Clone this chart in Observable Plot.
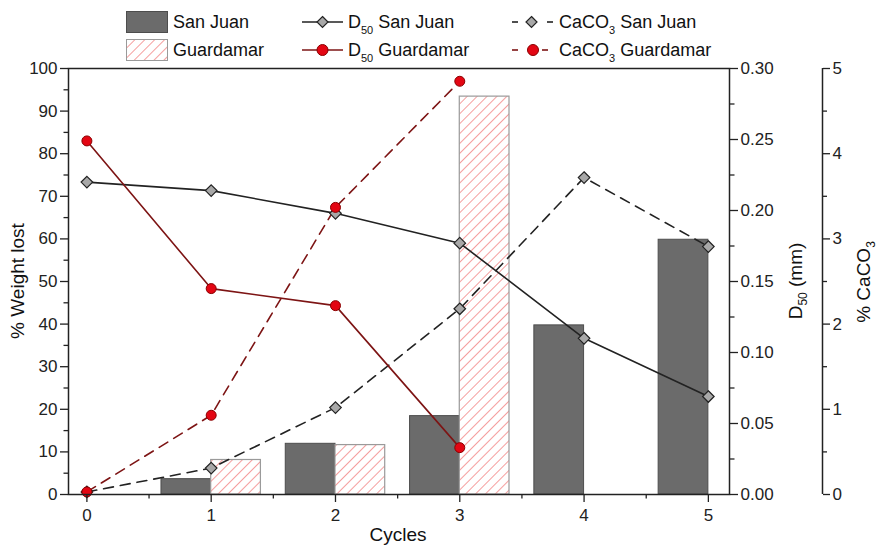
<!DOCTYPE html>
<html><head><meta charset="utf-8">
<script src="https://cdn.jsdelivr.net/npm/d3@7"></script>
<script src="https://cdn.jsdelivr.net/npm/@observablehq/plot@0.6"></script>
<style>
body{margin:0;background:#fff;font-family:"Liberation Sans",Arial,sans-serif;}
#legend{position:relative;height:58px;width:881px;}
.li{position:absolute;font-size:18px;color:#111;white-space:nowrap;display:flex;align-items:center;height:24px;}
.li svg{display:block;flex:none;}
.li span{margin-left:5px;}
sub{font-size:11px;vertical-align:-6px;line-height:0;}
</style></head><body>
<div id="legend"></div>
<div id="chart"></div>
<script>
// ---- data ----
const cycles = [0, 1, 2, 3, 4, 5];
const barCyclesSanJuan = [1, 2, 3, 4, 5];
const weightLostSanJuan = [3.6, 11.9, 18.4, 39.7, 59.8];
const barCyclesGuardamar = [1, 2, 3];
const weightLostGuardamar = [8.1, 11.6, 93.4];
const d50SanJuan = [0.220, 0.214, 0.198, 0.177, 0.110, 0.069];
const d50Guardamar = [0.249, 0.145, 0.133, 0.033];
const caco3SanJuan = [0.03, 0.31, 1.02, 2.18, 3.72, 2.91];
const caco3Guardamar = [0.03, 0.93, 3.37, 4.85];
const weightTicks = [0, 10, 20, 30, 40, 50, 60, 70, 80, 90, 100];
const d50Ticks = [0, 0.05, 0.10, 0.15, 0.20, 0.25, 0.30];
const caco3Ticks = [0, 1, 2, 3, 4, 5];

// secondary axes share the % weight scale
const D50_MAX = 0.30, CACO3_MAX = 5;
const d50ToPct = v => v / D50_MAX * 100;
const caco3ToPct = v => v / CACO3_MAX * 100;

const sjBars = barCyclesSanJuan.map((c, i) => ({c, v: weightLostSanJuan[i]}));
const gBars = barCyclesGuardamar.map((c, i) => ({c, v: weightLostGuardamar[i]}));
const d50SJ = d50SanJuan.map((v, i) => ({c: cycles[i], y: d50ToPct(v)}));
const d50G = d50Guardamar.map((v, i) => ({c: cycles[i], y: d50ToPct(v)}));
const cSJ = caco3SanJuan.map((v, i) => ({c: cycles[i], y: caco3ToPct(v)}));
const cG = caco3Guardamar.map((v, i) => ({c: cycles[i], y: caco3ToPct(v)}));

const xDomain = [-0.148, 5.17];
const ink = "#222";
const darkRed = "#7d1414";
const hatchColor = "#f27e7e";
const barW = 0.4;

const svg = Plot.plot({
  width: 881, height: 488,
  marginTop: 10, marginBottom: 52, marginLeft: 68, marginRight: 152,
  style: {fontFamily: "'Liberation Sans', Arial, sans-serif", fontSize: "17px", color: ink, background: "#fff"},
  x: {domain: xDomain, label: null},
  y: {domain: [0, 100], label: null},
  marks: [
    Plot.rect(sjBars, {x1: d => d.c - barW, x2: d => d.c, y1: 0, y2: "v", fill: "#6b6b6b", stroke: "#4d4d4d", strokeWidth: 1}),
    Plot.rect(gBars, {x1: d => d.c, x2: d => d.c + barW, y1: 0, y2: "v", fill: "url(#hatch)", stroke: "#9a9a9a", strokeWidth: 1.2}),
    Plot.line(cSJ, {x: "c", y: "y", stroke: ink, strokeWidth: 1.6, strokeDasharray: "10,7"}),
    Plot.line(cG, {x: "c", y: "y", stroke: darkRed, strokeWidth: 1.6, strokeDasharray: "10,7"}),
    Plot.line(d50SJ, {x: "c", y: "y", stroke: ink, strokeWidth: 1.6}),
    Plot.line(d50G, {x: "c", y: "y", stroke: darkRed, strokeWidth: 1.6}),
    Plot.dot(cSJ, {x: "c", y: "y", symbol: "diamond2", r: 5.2, fill: "#a8a8a8", stroke: ink, strokeWidth: 1.2}),
    Plot.dot(d50SJ, {x: "c", y: "y", symbol: "diamond2", r: 5.2, fill: "#a8a8a8", stroke: ink, strokeWidth: 1.2}),
    Plot.dot(cG, {x: "c", y: "y", r: 5, fill: "#e30613", stroke: "#8a0000", strokeWidth: 1}),
    Plot.dot(d50G, {x: "c", y: "y", r: 5, fill: "#e30613", stroke: "#8a0000", strokeWidth: 1}),
    Plot.frame({stroke: ink, strokeWidth: 1.5}),
    // left axis
    Plot.axisY({ticks: weightTicks, tickSize: 8, tickPadding: 3, strokeWidth: 1.3, tickFormat: d => String(d), label: null}),
    Plot.axisY({ticks: weightTicks.slice(0, -1).map(t => t + 5), tickSize: 4.5, strokeWidth: 1.3, tickFormat: () => "", label: null}),
    // bottom axis
    Plot.axisX({ticks: cycles, tickSize: 8, tickPadding: 6, strokeWidth: 1.3, tickFormat: d => String(d), label: null}),
    Plot.axisX({ticks: cycles.slice(0, -1).map(t => t + 0.5), tickSize: 4.5, strokeWidth: 1.3, tickFormat: () => "", label: null}),
    // D50 axis (right)
    Plot.axisY({anchor: "right", ticks: d50Ticks.map(d50ToPct), tickSize: 8, tickPadding: 3, strokeWidth: 1.3,
      tickFormat: v => (v * D50_MAX / 100).toFixed(2), label: null}),
    Plot.axisY({anchor: "right", ticks: d50Ticks.slice(0, -1).map(t => d50ToPct(t + 0.025)), tickSize: 4.5, strokeWidth: 1.3, tickFormat: () => "", label: null}),
    // CaCO3 axis (far right)
    Plot.ruleX([xDomain[1]], {dx: 93, stroke: ink, strokeWidth: 1.5}),
    Plot.axisY({anchor: "right", dx: 93, ticks: caco3Ticks.map(caco3ToPct), tickSize: 7, tickPadding: 3, strokeWidth: 1.3,
      tickFormat: v => String(Math.round(v * CACO3_MAX / 100)), label: null}),
    Plot.axisY({anchor: "right", dx: 93, ticks: caco3Ticks.slice(0, -1).map(t => caco3ToPct(t + 0.5)), tickSize: 4, strokeWidth: 1.3, tickFormat: () => "", label: null})
  ]
});

// hatch pattern for Guardamar bars
const NS = "http://www.w3.org/2000/svg";
const hatchDef = id => `<pattern id="${id}" patternUnits="userSpaceOnUse" width="7" height="7" patternTransform="rotate(45)">
  <rect width="7" height="7" fill="#fff"/><line x1="0" y1="0" x2="0" y2="7" stroke="${hatchColor}" stroke-width="1.5"/></pattern>`;
const defs = document.createElementNS(NS, "defs");
defs.innerHTML = hatchDef("hatch");
svg.insertBefore(defs, svg.firstChild);

// axis titles (svg coordinates = page y - 58)
const top0 = 58;
function addTitle(x, y, rot, html) {
  const t = document.createElementNS(NS, "text");
  t.setAttribute("transform", `translate(${x},${y - top0})` + (rot ? ` rotate(${rot})` : ""));
  t.setAttribute("text-anchor", "middle");
  t.setAttribute("font-size", "19");
  t.setAttribute("fill", "#111");
  t.innerHTML = html;
  svg.appendChild(t);
}
const sub = s => `<tspan font-size="12" dy="5">${s}</tspan><tspan dy="-5">`;
addTitle(24, 281, -90, "% Weight lost");
addTitle(802, 281, -90, `D${sub("50")} (mm)</tspan>`);
addTitle(870, 282, -90, `% CaCO${sub("3")}</tspan>`);
addTitle(398, 541, 0, "Cycles");
document.getElementById("chart").appendChild(svg);

// legend
const legend = document.getElementById("legend");
function item(left, top, w, symbolSvg, label) {
  const d = document.createElement("div");
  d.className = "li";
  d.style.left = left + "px"; d.style.top = top + "px";
  d.innerHTML = `<svg width="${w}" height="24">${symbolSvg}</svg><span>${label}</span>`;
  legend.appendChild(d);
}
const diamond = (cx) => `<path d="M${cx},6.5 L${cx+5.5},12 L${cx},17.5 L${cx-5.5},12Z" fill="#a8a8a8" stroke="${ink}" stroke-width="1.2"/>`;
const circle = (cx) => `<circle cx="${cx}" cy="12" r="5.5" fill="#e30613" stroke="#8a0000"/>`;
item(126, 10, 42, `<rect x="0.5" y="1.5" width="41" height="21" fill="#6b6b6b" stroke="#4d4d4d"/>`, "San Juan");
item(126, 38, 42, `<defs>${hatchDef("hatchL")}</defs><rect x="0.5" y="1.5" width="41" height="21" fill="url(#hatchL)" stroke="#9a9a9a"/>`, "Guardamar");
item(302, 10, 41, `<line x1="0" y1="12" x2="41" y2="12" stroke="${ink}" stroke-width="1.6"/>` + diamond(20.5), "D<sub>50</sub> San Juan");
item(302, 38, 41, `<line x1="0" y1="12" x2="41" y2="12" stroke="${darkRed}" stroke-width="1.6"/>` + circle(20.5), "D<sub>50</sub> Guardamar");
item(510, 10, 44, `<line x1="2" y1="12" x2="8" y2="12" stroke="${ink}" stroke-width="1.6"/><line x1="37" y1="12" x2="43" y2="12" stroke="${ink}" stroke-width="1.6"/>` + diamond(21.5), "CaCO<sub>3</sub> San Juan");
item(510, 38, 44, `<line x1="2" y1="12" x2="8" y2="12" stroke="${darkRed}" stroke-width="1.6"/><line x1="32" y1="12" x2="38" y2="12" stroke="${darkRed}" stroke-width="1.6"/>` + circle(23), "CaCO<sub>3</sub> Guardamar");
</script>
</body></html>
